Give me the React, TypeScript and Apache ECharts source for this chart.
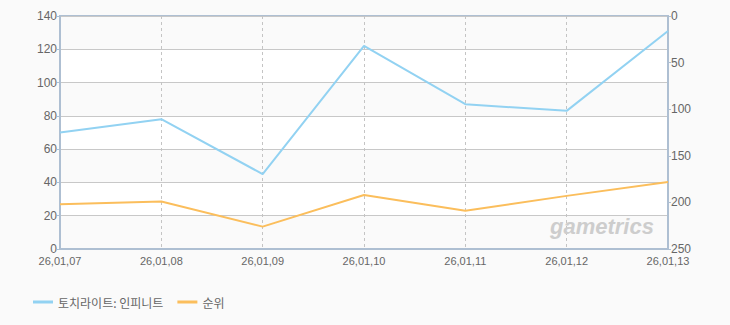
import React, { useEffect, useRef } from "react";
import * as echarts from "echarts";

const categories = ["26,01,07", "26,01,08", "26,01,09", "26,01,10", "26,01,11", "26,01,12", "26,01,13"];
const gameValues = [70, 78, 45, 122, 87, 83, 131];
const rankValues = [202, 199, 226, 192, 209, 193, 178];
const leftTicks = { min: 0, max: 140, interval: 20 };
const rightTicks = { min: 0, max: 250, interval: 50 };
const seriesNames = ["토치라이트: 인피니트", "순위"];

export default function App() {
  const ref = useRef<HTMLDivElement>(null);
  useEffect(() => {
    if (!ref.current) return;
    const chart = echarts.init(ref.current, undefined, { renderer: "svg" });
    const font = "'Liberation Sans', Arial, sans-serif";
    chart.setOption({
      animation: false,
      backgroundColor: "#fafafa",
      grid: {
        left: 60,
        right: 62,
        top: 16,
        bottom: 76,
        show: true,
        borderColor: "#aebfd2",
        borderWidth: 2,
        backgroundColor: "transparent",
      },
      legend: {
        left: 28,
        top: 291,
        itemWidth: 20,
        itemHeight: 3,
        itemGap: 14,
        icon: "rect",
        textStyle: { color: "#666", fontSize: 12, fontFamily: "'Noto Sans CJK KR', sans-serif" },
        data: seriesNames,
      },
      xAxis: {
        type: "category",
        data: categories,
        boundaryGap: false,
        axisLine: { show: true, lineStyle: { color: "#aebfd2", width: 2 } },
        axisTick: { show: false },
        axisLabel: { color: "#666", fontSize: 11, fontFamily: font, margin: 6, showMinLabel: true, showMaxLabel: true, interval: 0 },
        splitLine: { show: true, lineStyle: { color: "#c4c4c4", type: [3, 3], width: 1 } },
      },
      yAxis: [
        {
          type: "value",
          min: leftTicks.min,
          max: leftTicks.max,
          interval: leftTicks.interval,
          axisLine: { show: true, lineStyle: { color: "#aebfd2", width: 2 } },
          axisTick: { show: true, length: 3, lineStyle: { color: "#aebfd2" } },
          axisLabel: { color: "#666", fontSize: 12, fontFamily: font, margin: 3 },
          splitLine: { show: true, lineStyle: { color: "#c8c8c8", width: 1 } },
          splitArea: { show: true, areaStyle: { color: ["#fafafa", "#ffffff"] } },
        },
        {
          type: "value",
          inverse: true,
          min: rightTicks.min,
          max: rightTicks.max,
          interval: rightTicks.interval,
          axisLine: { show: true, lineStyle: { color: "#aebfd2", width: 2 } },
          axisTick: { show: true, length: 3, lineStyle: { color: "#aebfd2" } },
          axisLabel: { color: "#666", fontSize: 12, fontFamily: font, margin: 3 },
          splitLine: { show: false },
        },
      ],
      series: [
        {
          name: seriesNames[0],
          type: "line",
          yAxisIndex: 0,
          data: gameValues,
          showSymbol: false,
          symbol: "none",
          color: "#92d2f2",
          lineStyle: { width: 2, color: "#92d2f2" },
          z: 3,
        },
        {
          name: seriesNames[1],
          type: "line",
          yAxisIndex: 1,
          data: rankValues,
          showSymbol: false,
          symbol: "none",
          color: "#fbbe5c",
          lineStyle: { width: 2, color: "#fbbe5c" },
          z: 3,
        },
      ],
      graphic: [
        {
          type: "text",
          left: 550,
          top: 215,
          z: 1,
          style: {
            text: "gametrics",
            fill: "#cdcdcd",
            font: "italic bold 22px 'Liberation Sans', Arial, sans-serif",
            shadowColor: "rgba(0,0,0,0.12)",
            shadowBlur: 1,
            shadowOffsetX: 1,
            shadowOffsetY: 1,
          },
        },
      ],
    });
    return () => chart.dispose();
  }, []);
  return <div ref={ref} style={{ width: 730, height: 325, position: "absolute", left: 0, top: 0 }} />;
}
